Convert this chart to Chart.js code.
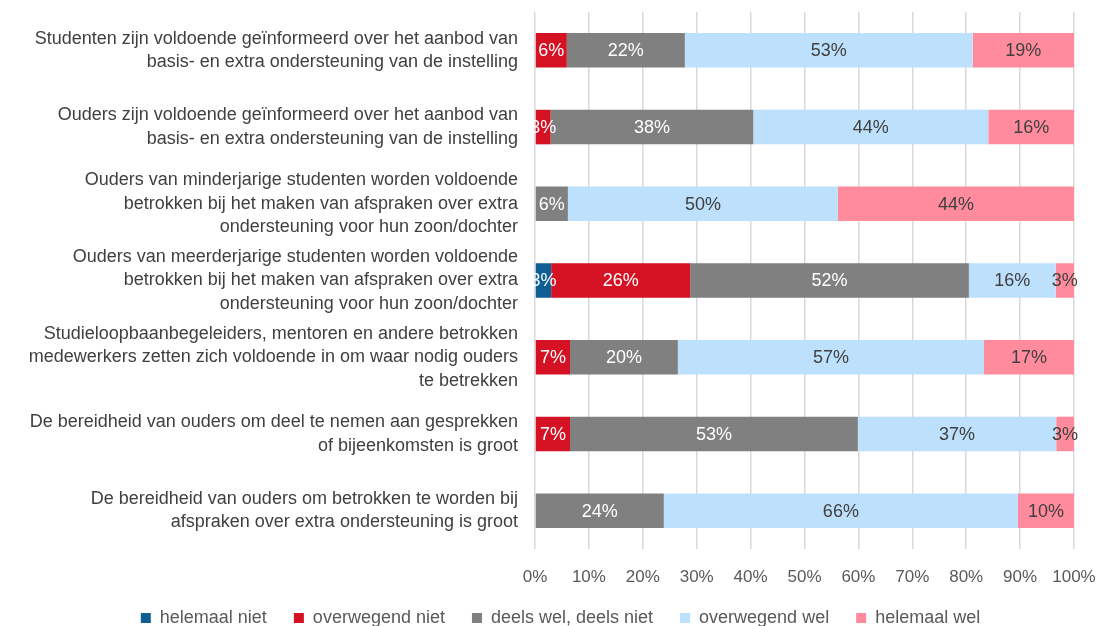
<!DOCTYPE html>
<html lang="nl">
<head>
  <meta charset="UTF-8">
  <title>Betrokkenheid ouders</title>
  <script src="https://cdn.jsdelivr.net/npm/chart.js"></script>
  <style>
    html, body { margin: 0; padding: 0; background: #fff; }
    #wrap { width: 1099px; height: 626px; }
  </style>
</head>
<body>
<div id="wrap"><canvas id="grafiek"></canvas></div>

<script>
  // vragen (categorieën)
  const vragen = [
    ["Studenten zijn voldoende geïnformeerd over het aanbod van", "basis- en extra ondersteuning van de instelling"],
    ["Ouders zijn voldoende geïnformeerd over het aanbod van", "basis- en extra ondersteuning van de instelling"],
    ["Ouders van minderjarige studenten worden voldoende", "betrokken bij het maken van afspraken over extra", "ondersteuning voor hun zoon/dochter"],
    ["Ouders van meerderjarige studenten worden voldoende", "betrokken bij het maken van afspraken over extra", "ondersteuning voor hun zoon/dochter"],
    ["Studieloopbaanbegeleiders, mentoren en andere betrokken", "medewerkers zetten zich voldoende in om waar nodig ouders", "te betrekken"],
    ["De bereidheid van ouders om deel te nemen aan gesprekken", "of bijeenkomsten is groot"],
    ["De bereidheid van ouders om betrokken te worden bij", "afspraken over extra ondersteuning is groot"]
  ];

  // antwoorden in procenten
  const helemaalNiet   = [0, 0, 0, 3.0, 0, 0, 0];
  const overwegendNiet = [5.9, 2.9, 0, 25.8, 6.5, 6.5, 0];
  const deelsWel       = [21.9, 37.6, 6.1, 51.7, 20.0, 53.4, 23.9];
  const overwegendWel  = [53.4, 43.6, 50.1, 16.1, 56.8, 36.8, 65.7];
  const helemaalWel    = [18.8, 15.9, 43.8, 3.4, 16.7, 3.3, 10.4];

  const reeksNamen = ["helemaal niet", "overwegend niet", "deels wel, deels niet", "overwegend wel", "helemaal wel"];
  const xTicks = [0, 10, 20, 30, 40, 50, 60, 70, 80, 90, 100];
</script>

<script>
  const lettertype = "'Liberation Sans', Arial, sans-serif";
  const kleuren = ["#0f5f95", "#d51224", "#808080", "#bde0fd", "#ff8b9c"];
  const tekstKleuren = ["#ffffff", "#ffffff", "#ffffff", "#404040", "#404040"];
  const reeksen = [helemaalNiet, overwegendNiet, deelsWel, overwegendWel, helemaalWel];

  // percentages in de balken
  const balkLabels = {
    id: "balkLabels",
    afterDatasetsDraw(chart) {
      const ctx = chart.ctx;
      ctx.save();
      ctx.font = "18px " + lettertype;
      ctx.textAlign = "center";
      ctx.textBaseline = "middle";
      chart.data.datasets.forEach((ds, i) => {
        const meta = chart.getDatasetMeta(i);
        meta.data.forEach((el, j) => {
          const v = ds.data[j];
          if (!v) return;
          ctx.fillStyle = tekstKleuren[i];
          ctx.fillText(Math.round(v) + "%", (el.x + el.base) / 2, el.y + 1);
        });
      });
      ctx.restore();
    }
  };

  // legenda: lage vaste hoogte, daarna op de juiste plek schuiven
  const legendaPlek = {
    id: "legendaPlek",
    beforeLayout(chart) {
      const lg = chart.legend;
      if (!lg || lg._vast) return;
      const orig = lg.fit;
      lg.fit = function () {
        orig.call(this);
        this.height = 32;
      };
      lg._vast = true;
    },
    afterLayout(chart) {
      const lg = chart.legend;
      if (!lg) return;
      lg.top = 582;
      lg.bottom = 626;
      lg.left = 11;
      lg.right = chart.width + 11;
    }
  };

  new Chart(document.getElementById("grafiek"), {
    type: "bar",
    data: {
      labels: vragen,
      datasets: reeksen.map((d, i) => ({
        label: reeksNamen[i],
        data: d,
        backgroundColor: kleuren[i],
        borderWidth: 0,
        categoryPercentage: 1,
        barPercentage: 0.45
      }))
    },
    options: {
      indexAxis: "y",
      responsive: true,
      maintainAspectRatio: false,
      animation: false,
      layout: { padding: { top: 12, right: 25, left: 0, bottom: 0 } },
      plugins: {
        tooltip: { enabled: false },
        legend: {
          position: "bottom",
          labels: {
            boxWidth: 10,
            boxHeight: 10,
            padding: 27,
            color: "#595959",
            font: { size: 18, family: lettertype }
          }
        }
      },
      scales: {
        x: {
          stacked: true,
          min: 0,
          max: 100,
          afterBuildTicks: s => { s.ticks = xTicks.map(v => ({ value: v })); },
          afterFit: s => { s.height = 45; s.paddingLeft = 0; s.paddingRight = 0; },
          grid: { color: "#d9d9d9", lineWidth: 1.5, drawTicks: false },
          border: { display: false },
          ticks: {
            padding: 18,
            maxRotation: 0,
            color: "#595959",
            font: { size: 17, family: lettertype },
            callback: v => v + "%"
          }
        },
        y: {
          stacked: true,
          afterFit: s => { s.width = 535; s.paddingTop = 0; s.paddingBottom = 0; },
          grid: { display: false, drawTicks: false },
          border: { display: false },
          ticks: {
            autoSkip: false,
            padding: 17,
            color: "#404040",
            font: { size: 18, family: lettertype, lineHeight: 1.3 }
          }
        }
      }
    },
    plugins: [balkLabels, legendaPlek]
  });
</script>
</body>
</html>
